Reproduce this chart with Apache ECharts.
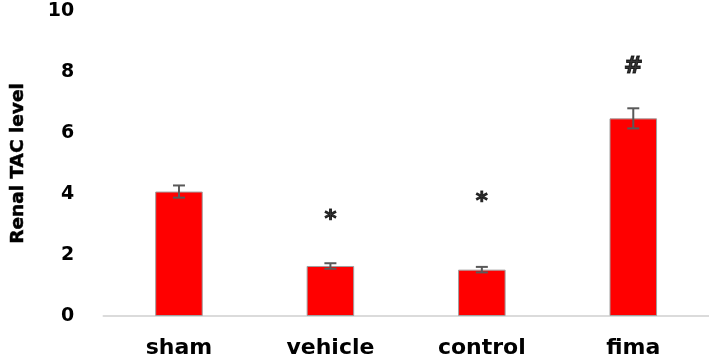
<!DOCTYPE html>
<html>
<head>
<meta charset="utf-8">
<script src="https://cdn.jsdelivr.net/npm/echarts@6/dist/echarts.min.js"></script>
<style>
  html, body { margin: 0; padding: 0; background: #fff; }
  #chart { width: 709px; height: 359px; }
</style>
</head>
<body>
<div id="chart"></div>
<script>
var groups = ['sham', 'vehicle', 'control', 'fima'];
var tacLevel = [4.08, 1.64, 1.52, 6.48];
var tacError = [0.2, 0.09, 0.09, 0.33];
var signMarks = ['', '*', '*', '#'];
var signLevel = [null, 3.14, 3.75, 8.17];

var myChart = echarts.init(document.getElementById('chart'));

var errData = groups.map(function (g, i) {
    return [i, tacLevel[i] - tacError[i], tacLevel[i] + tacError[i]];
});
var markData = groups.map(function (g, i) {
    return signLevel[i] == null ? [i, '-'] : [i, signLevel[i]];
});

var option = {
    animation: false,
    grid: { left: 97, right: 0, top: 11, bottom: 41 },
    xAxis: {
        type: 'category',
        data: groups,
        axisLine: { lineStyle: { color: '#d0d0d0', width: 1.5 } },
        axisTick: { show: false },
        axisLabel: {
            color: '#000',
            fontFamily: 'DejaVu Sans',
            fontWeight: 'bold',
            fontSize: 22,
            margin: 21
        }
    },
    yAxis: {
        type: 'value',
        min: 0,
        max: 10,
        interval: 2,
        name: 'Renal TAC level',
        nameLocation: 'middle',
        nameGap: 76,
        nameTextStyle: {
            color: '#000',
            fontFamily: 'DejaVu Sans',
            fontWeight: 'bold',
            fontSize: 18.5,
            textBorderColor: '#000',
            textBorderWidth: 0.5
        },
        axisLine: { show: false },
        axisTick: { show: false },
        splitLine: { show: false },
        axisLabel: {
            color: '#000',
            fontFamily: 'DejaVu Sans',
            fontWeight: 'bold',
            fontSize: 19,
            margin: 29
        }
    },
    series: [
        {
            type: 'bar',
            data: tacLevel,
            barWidth: '31.4%',
            itemStyle: { color: '#ff0000', borderColor: '#a0a0a0', borderWidth: 1 }
        },
        {
            type: 'custom',
            data: errData,
            z: 5,
            renderItem: function (params, api) {
                var lo = api.coord([api.value(0), api.value(1)]);
                var hi = api.coord([api.value(0), api.value(2)]);
                var w = 6;
                var st = { stroke: '#595959', lineWidth: 2 };
                return {
                    type: 'group',
                    children: [
                        { type: 'line', shape: { x1: hi[0], y1: hi[1], x2: lo[0], y2: lo[1] }, style: st },
                        { type: 'line', shape: { x1: hi[0] - w, y1: hi[1], x2: hi[0] + w, y2: hi[1] }, style: st },
                        { type: 'line', shape: { x1: lo[0] - w, y1: lo[1], x2: lo[0] + w, y2: lo[1] }, style: st }
                    ]
                };
            }
        },
        {
            type: 'scatter',
            data: markData,
            symbolSize: 0,
            label: {
                show: true,
                position: 'inside',
                color: '#000',
                fontFamily: 'DejaVu Sans',
                fontWeight: 'bold',
                fontSize: 23,
                textBorderColor: '#000',
                textBorderWidth: 1,
                formatter: function (p) {
                    return signMarks[p.dataIndex];
                }
            }
        }
    ]
};

myChart.setOption(option);
</script>
</body>
</html>
